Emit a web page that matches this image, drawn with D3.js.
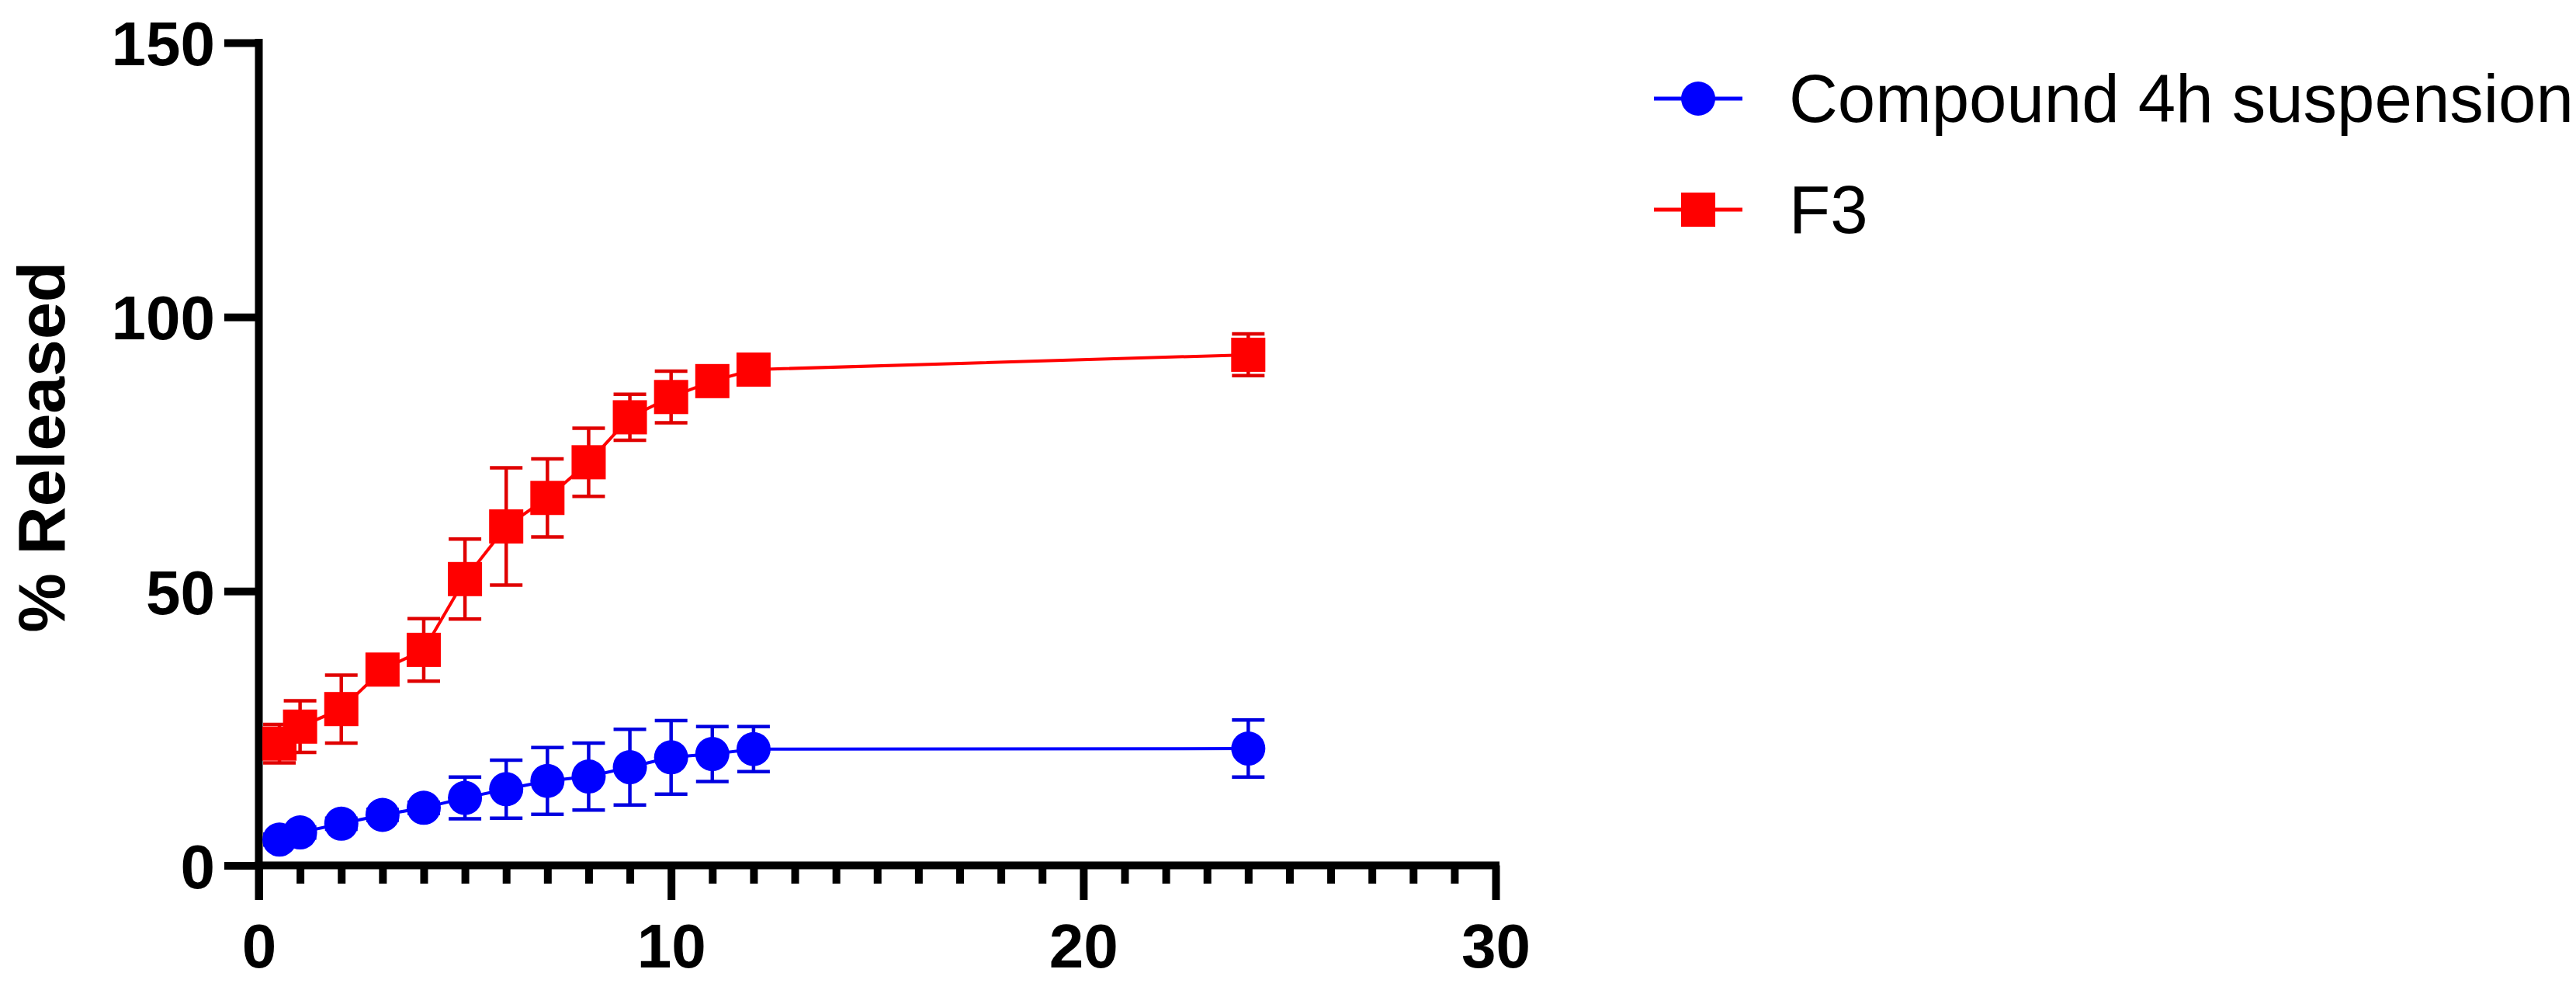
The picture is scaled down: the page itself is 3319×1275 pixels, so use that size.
<!DOCTYPE html>
<html>
<head>
<meta charset="utf-8">
<script src="https://cdn.jsdelivr.net/npm/d3@7"></script>
<style>
  html, body { margin: 0; padding: 0; background: #ffffff; }
  svg { display: block; }
</style>
</head>
<body>
<svg id="chart" width="3319" height="1275"></svg>
<script>
// ---- data ----
const timePoints = [0.5, 1, 2, 3, 4, 5, 6, 7, 8, 9, 10, 11, 12, 24];
const suspensionMean = [4.7, 6.0, 7.6, 9.2, 10.5, 12.3, 13.9, 15.4, 16.2, 17.9, 19.7, 20.3, 21.2, 21.3];
const suspensionSD   = [1.0, 1.0, 1.0, 1.0, 1.0, 3.8, 5.3, 6.1, 6.1, 6.9, 6.7, 5.0, 4.1, 5.2];
const f3Mean = [22.2, 25.3, 28.5, 35.7, 39.3, 52.2, 61.8, 67.0, 73.5, 81.7, 85.4, 88.3, 90.4, 93.1];
const f3SD   = [3.5, 4.7, 6.2, 1.5, 5.7, 7.3, 10.7, 7.1, 6.2, 4.2, 4.7, 1.5, 1.5, 3.8];
const seriesNames = ["Compound 4h suspension", "F3"];
const xTickValues = [0, 10, 20, 30];
const yTickValues = [0, 50, 100, 150];
const yAxisTitle = "% Released";

// ---- layout ----
const svg = d3.select("#chart");
svg.append("rect").attr("width", 3319).attr("height", 1275).attr("fill", "#ffffff");

const x = d3.scaleLinear().domain([0, 30]).range([333.5, 1927]);
const y = d3.scaleLinear().domain([0, 150]).range([1114.5, 55]);

const axisColor = "#000000";
const axisWidth = 10;
const tickFont = "'Liberation Sans', Arial, Helvetica, sans-serif";
const tickFontSize = 80;

// minor x ticks
const minorTicks = d3.range(0, 31, 1).filter(v => v % 10 !== 0);
const gMinor = svg.append("g").attr("transform", `translate(0,${y(0)})`)
  .call(d3.axisBottom(x).tickValues(minorTicks).tickSize(23.5).tickFormat(""));
gMinor.select(".domain").remove();
gMinor.selectAll(".tick line").attr("stroke", axisColor).attr("stroke-width", axisWidth);

// major x axis
const gx = svg.append("g").attr("transform", `translate(0,${y(0)})`)
  .call(d3.axisBottom(x).tickValues(xTickValues).tickSize(44.5).tickSizeOuter(0).tickPadding(30));
gx.select(".domain").attr("stroke", axisColor).attr("stroke-width", axisWidth)
  .attr("d", `M${x(0) - axisWidth/2},0H${x(30) + axisWidth/2}`);
gx.selectAll(".tick line").attr("stroke", axisColor).attr("stroke-width", axisWidth);
gx.selectAll(".tick text")
  .attr("fill", "#000").attr("font-family", tickFont).attr("font-weight", "bold")
  .attr("font-size", tickFontSize).attr("dy", "0.71em");

// y axis
const gy = svg.append("g").attr("transform", `translate(${x(0)},0)`)
  .call(d3.axisLeft(y).tickValues(yTickValues).tickSize(44.5).tickSizeOuter(0).tickPadding(12));
gy.select(".domain").attr("stroke", axisColor).attr("stroke-width", axisWidth)
  .attr("d", `M0,${y(150) - axisWidth/2}V${y(0) + 44.5}`);
gy.selectAll(".tick line").attr("stroke", axisColor).attr("stroke-width", axisWidth);
gy.selectAll(".tick text")
  .attr("fill", "#000").attr("font-family", tickFont).attr("font-weight", "bold")
  .attr("font-size", tickFontSize).attr("dy", "0.36em");

// y axis title
svg.append("text")
  .attr("transform", `translate(83,${(y(0) + y(150)) / 2 - 9}) rotate(-90)`)
  .attr("text-anchor", "middle")
  .attr("font-family", tickFont).attr("font-weight", "bold").attr("font-size", 86)
  .attr("fill", "#000")
  .text(yAxisTitle);

// ---- series ----
const series = [
  { name: seriesNames[0], mean: suspensionMean, sd: suspensionSD, color: "#0000ff", errColor: "#0000e0", shape: "circle" },
  { name: seriesNames[1], mean: f3Mean, sd: f3SD, color: "#ff0000", errColor: "#e00000", shape: "square" }
];
const markerSize = 44;
const capHalf = 21;

const line = d3.line().x(d => x(d.t)).y(d => y(d.v));

series.forEach(s => {
  const pts = timePoints.map((t, i) => ({ t, v: s.mean[i], e: s.sd[i] }));
  const g = svg.append("g");
  // connecting line
  g.append("path").datum(pts).attr("d", line)
    .attr("fill", "none").attr("stroke", s.color).attr("stroke-width", 4);
  // error bars
  const eb = g.selectAll(".eb").data(pts).enter().append("g");
  eb.append("line")
    .attr("x1", d => x(d.t)).attr("x2", d => x(d.t))
    .attr("y1", d => y(d.v + d.e)).attr("y2", d => y(d.v - d.e))
    .attr("stroke", s.errColor).attr("stroke-width", 4.5);
  eb.append("line")
    .attr("x1", d => x(d.t) - capHalf).attr("x2", d => x(d.t) + capHalf)
    .attr("y1", d => y(d.v + d.e)).attr("y2", d => y(d.v + d.e))
    .attr("stroke", s.errColor).attr("stroke-width", 4.5);
  eb.append("line")
    .attr("x1", d => x(d.t) - capHalf).attr("x2", d => x(d.t) + capHalf)
    .attr("y1", d => y(d.v - d.e)).attr("y2", d => y(d.v - d.e))
    .attr("stroke", s.errColor).attr("stroke-width", 4.5);
  // markers
  if (s.shape === "circle") {
    g.selectAll(".m").data(pts).enter().append("circle")
      .attr("cx", d => x(d.t)).attr("cy", d => y(d.v)).attr("r", markerSize / 2)
      .attr("fill", s.color);
  } else {
    g.selectAll(".m").data(pts).enter().append("rect")
      .attr("x", d => x(d.t) - markerSize / 2).attr("y", d => y(d.v) - markerSize / 2)
      .attr("width", markerSize).attr("height", markerSize)
      .attr("fill", s.color);
  }
});

// ---- legend ----
const legendY = [127, 270];
const legend = svg.append("g");
series.forEach((s, i) => {
  const ly = legendY[i];
  legend.append("line").attr("x1", 2131).attr("x2", 2245).attr("y1", ly).attr("y2", ly)
    .attr("stroke", s.color).attr("stroke-width", 5);
  if (s.shape === "circle") {
    legend.append("circle").attr("cx", 2188).attr("cy", ly).attr("r", markerSize / 2).attr("fill", s.color);
  } else {
    legend.append("rect").attr("x", 2188 - markerSize / 2).attr("y", ly - markerSize / 2)
      .attr("width", markerSize).attr("height", markerSize).attr("fill", s.color);
  }
  legend.append("text").attr("x", 2305).attr("y", ly + 30)
    .attr("font-family", tickFont).attr("font-size", 87).attr("fill", "#000")
    .text(s.name);
});
</script>
</body>
</html>
